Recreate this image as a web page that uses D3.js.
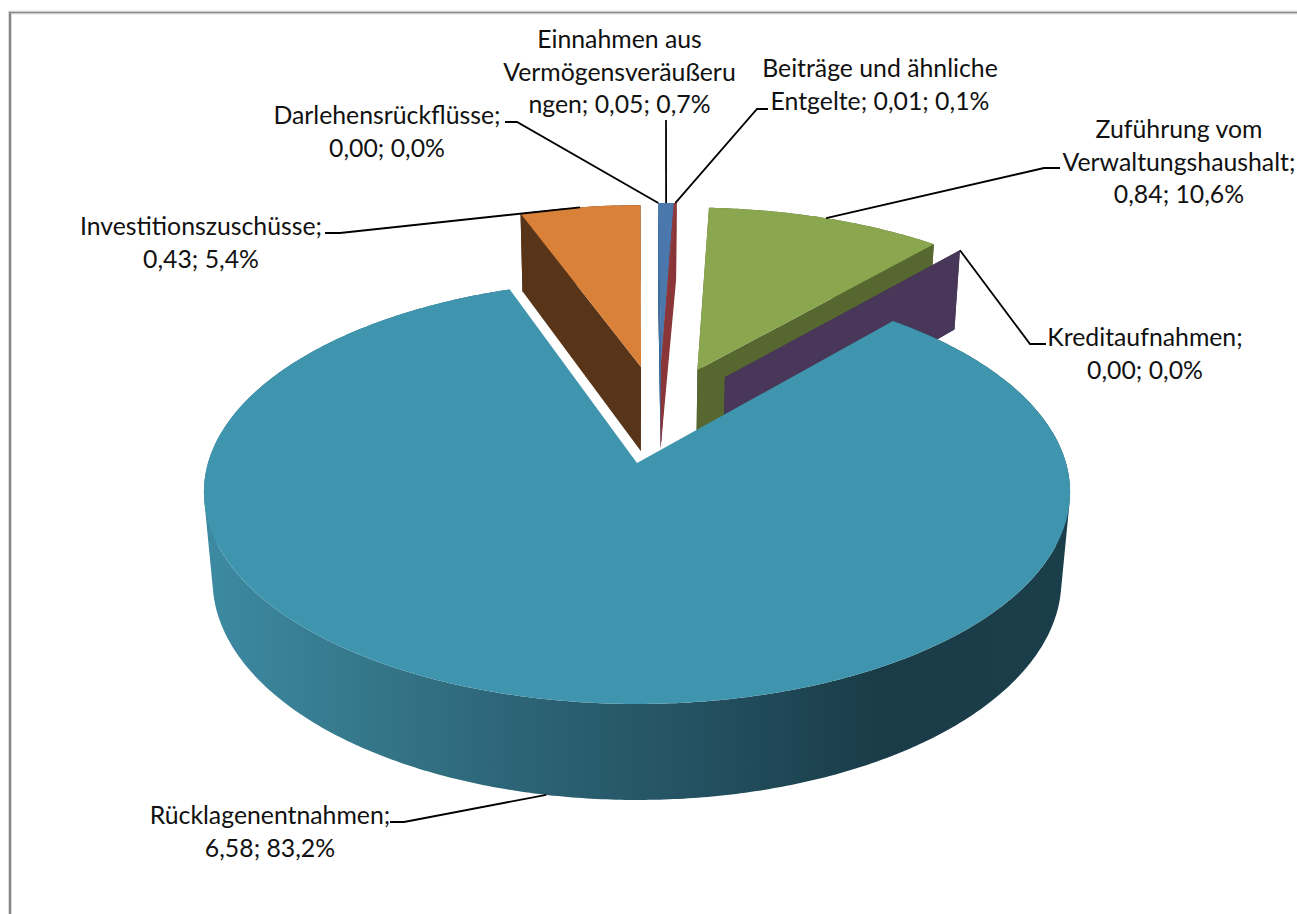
<!DOCTYPE html>
<html>
<head>
<meta charset="utf-8">
<script src="https://cdn.jsdelivr.net/npm/d3@7"></script>
<style>
body { margin: 0; background: #fff; }
text { font-family: Lato, sans-serif; font-size: 24.8px; fill: #111; text-anchor: middle; }
</style>
</head>
<body>
<div id="chart"></div>
<script>
// clockwise from 12 o'clock, same order as the spreadsheet series
var categories = ["Einnahmen aus Vermögensveräußerungen", "Beiträge und ähnliche Entgelte", "Zuführung vom Verwaltungshaushalt", "Kreditaufnahmen", "Rücklagenentnahmen", "Investitionszuschüsse", "Darlehensrückflüsse"];
var values = [0.055, 0.01, 0.84, 0.00, 6.58, 0.43, 0.00];
var labelLines = [
    ["Einnahmen aus", "Vermögensveräußeru", "ngen; 0,05; 0,7%"],
    ["Beiträge und ähnliche", "Entgelte; 0,01; 0,1%"],
    ["Zuführung vom", "Verwaltungshaushalt;", "0,84; 10,6%"],
    ["Kreditaufnahmen;", "0,00; 0,0%"],
    ["Rücklagenentnahmen;", "6,58; 83,2%"],
    ["Investitionszuschüsse;", "0,43; 5,4%"],
    ["Darlehensrückflüsse;", "0,00; 0,0%"]
];
var topColors = ["#4a78ac", "#8f3a3c", "#8aa64e", "#6b5488", "#4095ae", "#d98039", "#2c4d75"];
var wallColors = ["#3f6da0", "#8a3638", "#566730", "#483758", "#4095ae", "#583418", "#2c4d75"];

var w = 1297;
var h = 914;

// 3D pie projection, fitted to the picture
var cx = 637, cy = 463;   // centre of the main slice
var a = 429, b = 208;     // disc radii
var persp = 0.1368;       // how fast the disc shrinks to the back
var thick = 89.6;         // wall height
var thickPersp = 0.02;

// slice pull-out in disc units
var explode = [[0.06, -0.508], [0.06, -0.508], [0.15, -0.476], [0.217, -0.4366], [0, 0], [0.01, -0.4926], [0.06, -0.508]];
// back to front
var drawOrder = [6, 0, 1, 5, 2, 3, 4];

// label layout: centre x, first line y, leader elbow and leader end
var labelLayout = [
    {x: 619.5, y: 48, elbow: null, end: [666, 120]},
    {x: 880, y: 77, elbow: [757, 109], end: [768, 109]},
    {x: 1179, y: 138, elbow: [1044, 168], end: [1060, 168]},
    {x: 1145, y: 346, elbow: [1030, 344], end: [1046, 344]},
    {x: 270, y: 824, elbow: [404, 822], end: [390, 822]},
    {x: 201, y: 235, elbow: [340, 233], end: [325, 233]},
    {x: 387, y: 124, elbow: [517, 122], end: [505, 122]}
];
var lineHeight = 32.5;

var svg = d3.select("#chart")
            .append("svg")
            .attr("width", w)
            .attr("height", h)
            .style("display", "block");

var defs = svg.append("defs");
var grad = defs.append("linearGradient")
               .attr("id", "wallGrad")
               .attr("gradientUnits", "userSpaceOnUse")
               .attr("x1", 204).attr("x2", 1070)
               .attr("y1", 0).attr("y2", 0);
[[0, "#3d8aa3"], [0.2, "#347688"], [0.38, "#2b6274"], [0.56, "#245262"], [0.78, "#1a3c48"], [1, "#1b3e4b"]].forEach(function(s) {
    grad.append("stop").attr("offset", s[0]).attr("stop-color", s[1]);
});

// frame of the chart area
svg.append("path")
   .attr("d", "M10,914V12.5H1297")
   .attr("fill", "none")
   .attr("stroke", "#868686")
   .attr("stroke-width", 2);
svg.append("path")
   .attr("d", "M8.5,914V11H1297M11.5,914V14H1297")
   .attr("fill", "none")
   .attr("stroke", "#dcdcdc")
   .attr("stroke-width", 1);

var pie = d3.pie().sort(null).value(function(d) { return d; });
var slices = pie(values);

// (u, v) on the unit disc, z = 0 on top, z = 1 at the bottom of the wall
function project(u, v, z) {
    var s = 1 / (1 - persp * v + thickPersp * z);
    return [cx + a * u * s, cy + (b * v + thick * z) * s];
}

function discPoint(i, angle, r, z) {
    return project(explode[i][0] + r * Math.sin(angle), explode[i][1] - r * Math.cos(angle), z);
}

function arcPoints(i, start, end, z) {
    var n = Math.max(2, Math.ceil((end - start) / 0.01));
    return d3.range(n + 1).map(function(k) {
        return discPoint(i, start + (end - start) * k / n, 1, z);
    });
}

var line = d3.line();

drawOrder.forEach(function(i) {
    var sl = slices[i];
    var g = svg.append("g").attr("class", "slice");
    var wall = i == 4 ? "url(#wallGrad)" : wallColors[i];

    // radial walls, the main slice hides its own behind the top
    if (i != 4) {
        [sl.startAngle, sl.endAngle].forEach(function(ang) {
            g.append("path")
             .attr("d", line([discPoint(i, ang, 0, 0), discPoint(i, ang, 1, 0), discPoint(i, ang, 1, 1), discPoint(i, ang, 0, 1)]) + "Z")
             .attr("fill", wall);
        });
    }

    // outer wall: quads with the same winding in one path, so the fold
    // at the sides stays filled and no seams show
    var rimTop = arcPoints(i, sl.startAngle, sl.endAngle, 0);
    var rimBottom = arcPoints(i, sl.startAngle, sl.endAngle, 1);
    var rimPath = d3.range(rimTop.length - 1).map(function(k) {
        var quad = [rimTop[k], rimTop[k + 1], rimBottom[k + 1], rimBottom[k]];
        if (d3.polygonArea(quad) < 0) quad.reverse();
        return line(quad) + "Z";
    }).join("");
    g.append("path")
     .attr("d", rimPath)
     .attr("fill", wall);

    // top face
    g.append("path")
     .attr("d", line([discPoint(i, 0, 0, 0)].concat(rimTop)) + "Z")
     .attr("fill", topColors[i]);
});

// leader lines and labels
slices.forEach(function(sl, i) {
    var mid = (sl.startAngle + sl.endAngle) / 2;
    var l = labelLayout[i];
    var start = discPoint(i, mid, 1, i == 4 ? 1 : 0);
    var pts = [start];
    if (l.elbow) pts.push(l.elbow);
    pts.push(l.end);

    svg.append("path")
       .attr("d", line(pts))
       .attr("fill", "none")
       .attr("stroke", "#000")
       .attr("stroke-width", 1.8);

    var t = svg.append("text").attr("x", l.x).attr("y", l.y);
    labelLines[i].forEach(function(txt, k) {
        t.append("tspan")
         .attr("x", l.x)
         .attr("y", l.y + k * lineHeight)
         .text(txt);
    });
});
</script>
</body>
</html>
